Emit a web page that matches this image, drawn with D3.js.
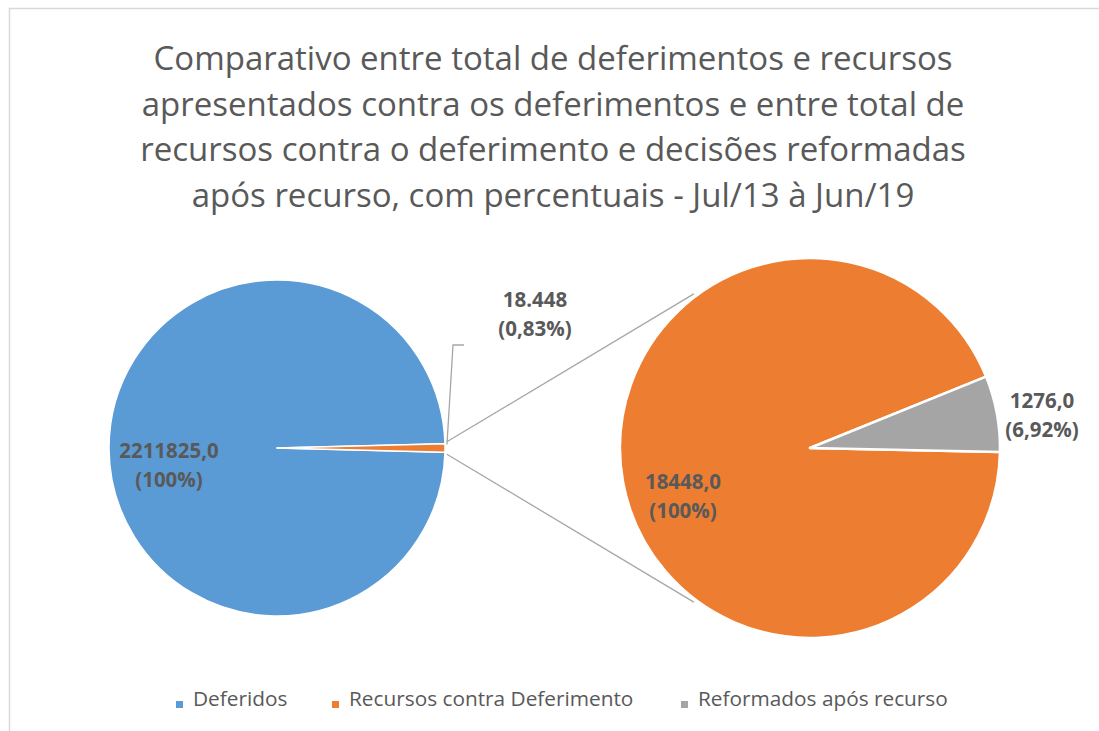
<!DOCTYPE html>
<html>
<head>
<meta charset="utf-8">
<script src="https://cdn.jsdelivr.net/npm/d3@7"></script>
<style>
  body { margin: 0; background: #fff; }
  svg { display: block; font-family: "Open Sans", sans-serif; }
</style>
</head>
<body>
<div id="chart"></div>
<script>
// Data
const titleLines = [
    "Comparativo entre total de deferimentos e recursos",
    "apresentados contra os deferimentos e entre total de",
    "recursos contra o deferimento e decisões reformadas",
    "após recurso, com percentuais - Jul/13 à Jun/19"
];
const categories = ["Deferidos", "Recursos contra Deferimento", "Reformados após recurso"];
const colors = ["#5B9BD5", "#ED7D31", "#A5A5A5"];
const mainValues = [2211825, 18448];     // Deferidos, Recursos
const secondValues = [18448, 1276];      // Recursos, Reformados
const mainLabels = [["2211825,0", "(100%)"], ["18.448", "(0,83%)"]];
const secondLabels = [["18448,0", "(100%)"], ["1276,0", "(6,92%)"]];

const W = 1099, H = 731;
const textColor = "#595959";

const svg = d3.select("#chart").append("svg")
    .attr("width", W)
    .attr("height", H);

// chart area border
svg.append("rect")
    .attr("x", 9.5).attr("y", 8.5)
    .attr("width", W).attr("height", H)
    .attr("fill", "none")
    .attr("stroke", "#d9d9d9")
    .attr("stroke-width", 1.5);

// Title
svg.append("text")
    .attr("text-anchor", "middle")
    .attr("fill", textColor)
    .style("font-size", "33px")
    .selectAll("tspan")
    .data(titleLines).enter()
    .append("tspan")
    .attr("x", 553)
    .attr("y", (d, i) => 70 + i * 45.5)
    .text(d => d);

const deg = Math.PI / 180;

// Main pie (left)
const mainC = { x: 277, y: 448, r: 168 };
const mainFrac = mainValues[1] / d3.sum(mainValues);
const mainStart = Math.PI / 2 + mainFrac * Math.PI - 2 * Math.PI;
const mainPie = d3.pie().sort(null)
    .startAngle(mainStart)
    .endAngle(mainStart + 2 * Math.PI)(mainValues);

const mainArc = d3.arc().innerRadius(0).outerRadius(mainC.r);
const gMain = svg.append("g").attr("transform", `translate(${mainC.x},${mainC.y})`);
gMain.selectAll("path")
    .data(mainPie).enter()
    .append("path")
    .attr("d", mainArc)
    .attr("fill", (d, i) => colors[i])
    .attr("stroke", "#fff")
    .attr("stroke-width", 1.5)
    .attr("stroke-linejoin", "round");

// Second pie (right)
const secC = { x: 810, y: 448, r: 190 };
const secStart = Math.PI / 2 + 1.2 * deg - 2 * Math.PI;
const secPie = d3.pie().sort(null)
    .startAngle(secStart)
    .endAngle(secStart + 2 * Math.PI)(secondValues);
const secArc = d3.arc().innerRadius(0).outerRadius(secC.r);
const gSec = svg.append("g").attr("transform", `translate(${secC.x},${secC.y})`);
gSec.selectAll("path")
    .data(secPie).enter()
    .append("path")
    .attr("d", secArc)
    .attr("fill", (d, i) => [colors[1], colors[2]][i])
    .attr("stroke", "#fff")
    .attr("stroke-width", 2.5)
    .attr("stroke-linejoin", "round");

// point on circle from d3 angle
function onCircle(c, a, r) {
    return [c.x + r * Math.sin(a), c.y - r * Math.cos(a)];
}

// connector lines between pies
const sl = mainPie[1];
const connectors = [
    [onCircle(mainC, sl.startAngle - 0.6 * deg, mainC.r + 2), onCircle(secC, 323 * deg, secC.r + 3)],
    [onCircle(mainC, sl.endAngle + 0.6 * deg, mainC.r + 2), onCircle(secC, 217 * deg, secC.r + 3)]
];
svg.selectAll(".connector")
    .data(connectors).enter()
    .append("line")
    .attr("class", "connector")
    .attr("x1", d => d[0][0]).attr("y1", d => d[0][1])
    .attr("x2", d => d[1][0]).attr("y2", d => d[1][1])
    .attr("stroke", "#a6a6a6")
    .attr("stroke-width", 1.3);

// leader line for the small slice label
const leadStart = onCircle(mainC, (sl.startAngle + sl.endAngle) / 2 - 1.2 * deg, mainC.r + 2);
svg.append("polyline")
    .attr("points", [leadStart, [453, 345], [464, 345]].map(p => p.join(",")).join(" "))
    .attr("fill", "none")
    .attr("stroke", "#a6a6a6")
    .attr("stroke-width", 1.3);

// data labels
const labelPos = [
    { lines: mainLabels[0], x: 169, y: 458 },
    { lines: mainLabels[1], x: 535, y: 307 },
    { lines: secondLabels[0], x: 683, y: 489 },
    { lines: secondLabels[1], x: 1042, y: 408 }
];
labelPos.forEach(l => {
    svg.append("text")
        .attr("text-anchor", "middle")
        .attr("fill", textColor)
        .style("font-size", "20.5px")
        .style("font-weight", "bold")
        .selectAll("tspan")
        .data(l.lines).enter()
        .append("tspan")
        .attr("x", l.x)
        .attr("y", (d, i) => l.y + i * 29)
        .text(d => d);
});

// Legend
const legendX = [176, 332, 681];
const legend = svg.append("g");
categories.forEach((c, i) => {
    legend.append("rect")
        .attr("x", legendX[i]).attr("y", 701)
        .attr("width", 7).attr("height", 7)
        .attr("fill", colors[i]);
    legend.append("text")
        .attr("x", legendX[i] + 17).attr("y", 706)
        .attr("fill", textColor)
        .style("font-size", "20.8px")
        .text(c);
});
</script>
</body>
</html>
